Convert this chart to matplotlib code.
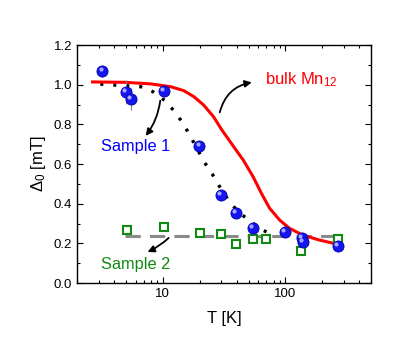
import numpy as np
import matplotlib
matplotlib.use("Agg")
import matplotlib.pyplot as plt
import matplotlib.transforms as mtransforms
from matplotlib.ticker import MultipleLocator, LogLocator, NullFormatter, FixedLocator

plt.rcParams['font.family'] = ['Liberation Sans', 'DejaVu Sans']
plt.rcParams['mathtext.fontset'] = 'custom'
plt.rcParams['mathtext.rm'] = 'Liberation Sans'
plt.rcParams['mathtext.it'] = 'Liberation Sans:italic'

# sample 1 (blue balls)
t1 = [3.22, 5.03, 5.52, 10.2, 19.9, 29.9, 39.5, 54.2, 99.5, 137, 139, 267]
d1 = [1.069, 0.963, 0.928, 0.968, 0.691, 0.444, 0.353, 0.277, 0.257, 0.227, 0.207, 0.187]
e1 = [0.03, 0.06, 0.056, 0.01, 0.01, 0.01, 0.01, 0.01, 0.01, 0.01, 0.01, 0.01]

# sample 2 (green squares)
t2 = [5.13, 10.2, 20.2, 30.0, 39.5, 54.0, 70.0, 135, 267]
d2 = [0.267, 0.282, 0.252, 0.247, 0.197, 0.222, 0.222, 0.161, 0.222]

# bulk Mn12 (red curve)
t_bulk = [2.68, 5.0, 8.0, 11.6, 14.85, 17.9, 21.5, 25.9, 30.3, 34.3, 37.6, 45.3,
          54.5, 63.7, 74.3, 89.5, 107.7, 138, 188, 281]
d_bulk = [1.014, 1.012, 1.004, 0.990, 0.970, 0.940, 0.898, 0.839, 0.772, 0.725, 0.690, 0.620,
          0.536, 0.452, 0.377, 0.318, 0.276, 0.242, 0.217, 0.192]

# dotted guide for sample 1
t_dot = [3.1, 6.6, 8.3, 10.4, 12.7, 14.8, 16.8, 21.8, 25.3, 28.8, 34.0, 41.0, 52.0, 65.0, 83.0]
d_dot = [1.003, 0.99, 0.965, 0.92, 0.86, 0.80, 0.74, 0.61, 0.55, 0.49, 0.42, 0.36, 0.31, 0.267, 0.237]

# dashed level for sample 2
t_dash = [4.9, 270]
d_dash = [0.237, 0.237]

fig = plt.figure(figsize=(4.15, 3.52), dpi=100)
ax = fig.add_axes([0.1855, 0.196, 0.709, 0.676])

ax.plot(t_dash, d_dash, color="#8a8a8a", lw=2.2, dashes=(5, 3), zorder=2)
ax.plot(t_dot, d_dot, color="black", lw=2.4, linestyle=(0, (0.9, 3.0)), zorder=3)
ax.plot(t_bulk, d_bulk, color="red", lw=2.2, zorder=4)

ax.errorbar(t2, d2, yerr=0.012, fmt="s", ms=6, mfc="white", mec="#108a10", mew=1.5,
            ecolor="#777777", elinewidth=0.8, capsize=0, zorder=5)

ax.errorbar(t1, d1, yerr=e1, fmt="none", ecolor="#888888", elinewidth=0.8, zorder=5)
ax.plot(t1, d1, "o", ms=8, mfc="#1515ee", mec="#0000b0", mew=0.6, zorder=6)
hl = mtransforms.offset_copy(ax.transData, fig=fig, x=-1.3, y=1.3, units="points")
ax.plot(t1, d1, "o", ms=3.0, mfc="#a8a8ff", mec="none", transform=hl, zorder=7)

ax.set_xscale("log")
ax.set_xlim(2, 500)
ax.set_ylim(0, 1.2)
ax.xaxis.set_major_locator(FixedLocator([10, 100]))
ax.xaxis.set_minor_locator(LogLocator(base=10, subs=np.arange(2, 10)))
ax.xaxis.set_minor_formatter(NullFormatter())
ax.set_xticklabels(["10", "100"])
ax.yaxis.set_major_locator(MultipleLocator(0.2))
ax.yaxis.set_minor_locator(MultipleLocator(0.1))
ax.yaxis.set_major_formatter(matplotlib.ticker.FormatStrFormatter("%.1f"))
ax.tick_params(which="both", direction="in", top=True, right=True, labelsize=9.5)
ax.tick_params(which="major", length=4, width=0.8)
ax.tick_params(which="minor", length=2.5, width=0.8)
for s in ax.spines.values():
    s.set_linewidth(1.0)

ax.set_xlabel("T [K]", fontsize=12, labelpad=8)
ax.set_ylabel(r"$\mathit{\Delta}_0$ [mT]", fontsize=12, labelpad=4)

ax.text(67.7, 1.024, r"bulk Mn$_{12}$", color="red", fontsize=12, va="center")
ax.annotate("", xy=(56, 1.014), xytext=(28.8, 0.847),
            arrowprops=dict(arrowstyle="-|>", color="black", lw=1.3,
                            connectionstyle="arc3,rad=-0.35", mutation_scale=10))
ax.text(3.16, 0.686, "Sample 1", color="blue", fontsize=11.8, va="center")
ax.annotate("", xy=(7.03, 0.731), xytext=(9.6, 0.933),
            arrowprops=dict(arrowstyle="-|>", color="black", lw=1.3,
                            connectionstyle="arc3,rad=-0.15", mutation_scale=10))
ax.text(3.16, 0.091, "Sample 2", color="#108a10", fontsize=11.8, va="center")
ax.annotate("", xy=(7.16, 0.151), xytext=(11.6, 0.237),
            arrowprops=dict(arrowstyle="-|>", color="black", lw=1.3,
                            connectionstyle="arc3,rad=-0.1", mutation_scale=10))

fig.savefig("out.png", dpi=100)
